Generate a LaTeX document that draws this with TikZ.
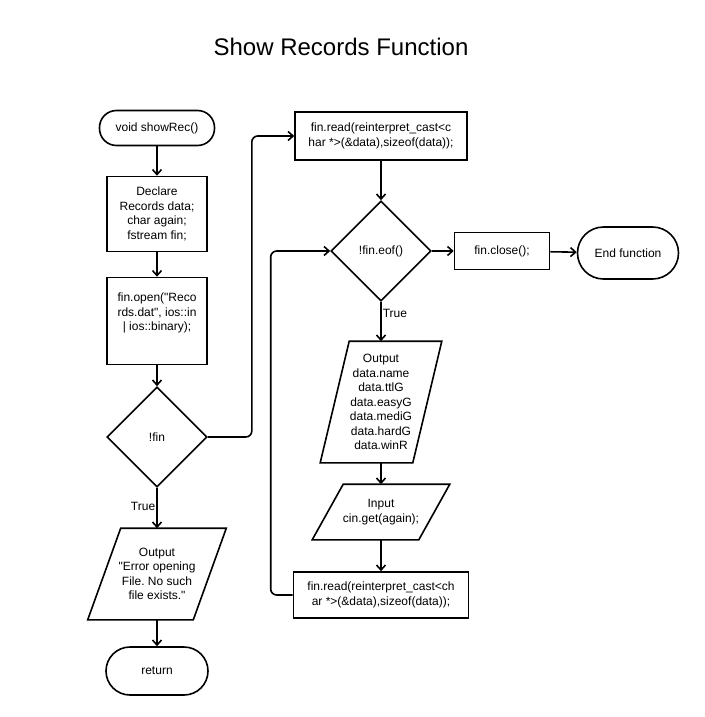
\documentclass[tikz,border=0pt]{standalone}
\usepackage{fontspec}
\setmainfont{Liberation Sans}[Ligatures=TeXOff]
\usetikzlibrary{arrows.meta,shapes.geometric}
\frenchspacing
\tikzstyle{process}=[rectangle, draw=black, line width=1.6pt, align=center, inner sep=2pt, font=\fontsize{12}{14.5}\selectfont]
\tikzstyle{terminal}=[process, rounded corners=17pt]
\tikzstyle{decision}=[process, diamond, aspect=1, inner sep=0pt, minimum width=100pt, minimum height=100pt]
\tikzstyle{inout}=[process, draw=none]
\tikzstyle{flow}=[draw=black, line width=1.6pt, -{Straight Barb[length=5pt,width=9pt]}]
\tikzstyle{lbl}=[font=\fontsize{12}{14.5}\selectfont, inner sep=1pt]
% slanted outline round an inout node: #1 node name, #2 half the slant
\newcommand{\slantbox}[2]{\draw[line width=1.6pt, line join=miter] ([xshift=#2]#1.north west) -- ([xshift=#2]#1.north east) -- ([xshift=-#2]#1.south east) -- ([xshift=-#2]#1.south west) -- cycle;}

\begin{document}
\begin{tikzpicture}[x=1pt, y=-1pt]
	\useasboundingbox (0,0) rectangle (704,717);
	\node[font=\fontsize{24}{28}\selectfont] (title) at (341,47) {Show Records Function};
	% left column
	\node[terminal, minimum width=115pt, minimum height=35pt] (start) at (157,128) {void showRec()};
	\node[process, minimum width=100pt, minimum height=75pt] (decl) at (157,214) {Declare\\Records data;\\char again;\\fstream fin;};
	\node[process, minimum width=100pt, minimum height=87pt] (open) at (157,321) {fin.open("Reco\\rds.dat", ios::in\\| ios::binary);\\[4pt]};
	\node[decision] (fin) at (157,437) {!fin};
	\node[inout, minimum width=104pt, minimum height=90pt] (err) at (157,574) {Output\\"Error opening\\File. No such\\file exists."};
	\node[terminal, rounded corners=24pt, minimum width=102pt, minimum height=48pt] (ret) at (157,671) {return};
	% right column
	\node[process, minimum width=172pt, minimum height=48pt] (read1) at (381,136) {fin.read(reinterpret\_cast<c\\har *>(\&data),sizeof(data));};
	\node[decision] (eof) at (381,251) {!fin.eof()};
	\node[process, minimum width=95pt, minimum height=37pt] (close) at (502,251) {fin.close();};
	\node[terminal, rounded corners=26pt, minimum width=101pt, minimum height=52pt] (endf) at (628,253) {End function};
	\node[inout, minimum width=91pt, minimum height=120pt] (outp) at (381,402) {Output\\data.name\\data.ttlG\\data.easyG\\data.mediG\\data.hardG\\data.winR};
	\node[inout, minimum width=105pt, minimum height=54pt] (inp) at (381,512) {Input\\cin.get(again);};
	\node[process, minimum width=175pt, minimum height=46pt] (read2) at (381,595) {fin.read(reinterpret\_cast<ch\\ar *>(\&data),sizeof(data));};
	\slantbox{err}{16.5pt}
	\slantbox{outp}{14.5pt}
	\slantbox{inp}{15.5pt}
	% connectors
	\path[flow] (start) -- (decl);
	\path[flow] (decl) -- (open);
	\path[flow] (open) -- (fin);
	\path[flow] (fin) -- node[lbl, anchor=east, pos=0.45] (t1) {True} (err);
	\path[flow] (err) -- (ret);
	\path[flow, rounded corners=6pt] (fin.east) -- ++(44,0) |- (read1.west);
	\path[flow] (read1) -- (eof);
	\path[flow] (eof) -- (close);
	\path[flow] (close) -- (endf);
	\path[flow] (eof) -- node[lbl, anchor=west, pos=0.3] (t2) {True} (outp);
	\path[flow] (outp) -- (inp);
	\path[flow] (inp) -- (read2);
	\path[flow, rounded corners=6pt] (read2.west) -- ++(-22,0) |- (eof.west);
\end{tikzpicture}
\end{document}
